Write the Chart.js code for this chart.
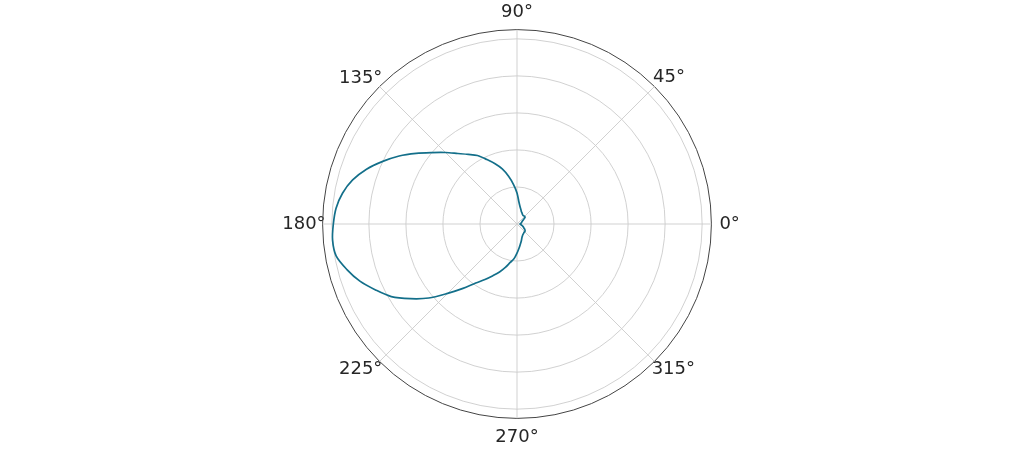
<!DOCTYPE html>
<html lang="en">
<head>
    <meta charset="UTF-8">
    <title>Polar plot</title>
    <script src="https://cdn.jsdelivr.net/npm/chart.js"></script>
    <style>
        body { margin: 0; background: #fff; }
        #wrap { width: 1035px; height: 450px; position: relative; }
    </style>
</head>
<body>
    <div id="wrap"><canvas id="polarChart"></canvas></div>

    <script>
        // angles in degrees, counter-clockwise from the right (0 deg)
        const angles = [0, 5, 10, 15, 20, 25, 30, 35, 40, 45, 50, 55,
                        60, 65, 70, 75, 80, 85, 90, 95, 100, 105, 110, 115,
                        120, 125, 130, 135, 140, 145, 150, 155, 160, 165, 170, 175,
                        180, 185, 190, 195, 200, 205, 210, 215, 220, 225, 230, 235,
                        240, 245, 250, 255, 260, 265, 270, 275, 280, 285, 290, 295,
                        300, 305, 310, 315, 320, 325, 330, 335, 340, 345, 350, 355];

        // radius at each angle
        const radius = [0.016, 0.019, 0.022, 0.024, 0.027, 0.030, 0.035, 0.043, 0.057, 0.058, 0.057, 0.057,
                        0.059, 0.065, 0.070, 0.081, 0.095, 0.119, 0.168, 0.214, 0.262, 0.308, 0.346, 0.384,
                        0.427, 0.459, 0.497, 0.546, 0.600, 0.665, 0.735, 0.800, 0.865, 0.919, 0.957, 0.981,
                        0.992, 1.000, 0.992, 0.951, 0.903, 0.843, 0.784, 0.703, 0.622, 0.530, 0.454, 0.389,
                        0.346, 0.308, 0.276, 0.243, 0.211, 0.189, 0.157, 0.130, 0.108, 0.092, 0.078, 0.070,
                        0.065, 0.062, 0.059, 0.059, 0.057, 0.051, 0.043, 0.038, 0.032, 0.027, 0.022, 0.019];

        const labelAngles = [0, 45, 90, 135, 180, 225, 270, 315];
        // gap between the outer circle and each angle label (labels are edge aligned)
        const labelPadding = { 0: 8, 45: -2, 90: 6, 135: -4, 180: -3, 225: -4, 270: 8, 315: -4 };
        const radialTicks = [0, 0.2, 0.4, 0.6, 0.8, 1.0, 1.05];

        // chart.js goes clockwise from startAngle, so walk the angles backwards
        const order = angles.map((a, k) => (angles.length - k) % angles.length);
        const chartLabels = order.map(i => angles[i] + '°');
        const chartData = order.map(i => radius[i]);

        const angleAt = index => angles[order[index]];

        const ctx = document.getElementById('polarChart').getContext('2d');
        new Chart(ctx, {
            type: 'radar',
            data: {
                labels: chartLabels,
                datasets: [{
                    data: chartData,
                    borderColor: '#136f8a',
                    borderWidth: 1.7,
                    backgroundColor: 'transparent',
                    fill: false,
                    pointRadius: 0,
                    pointHoverRadius: 0,
                    tension: 0.3
                }]
            },
            options: {
                responsive: true,
                maintainAspectRatio: false,
                animation: false,
                layout: { padding: { top: 2, bottom: 0 } },
                plugins: {
                    legend: { display: false },
                    tooltip: { enabled: false }
                },
                scales: {
                    r: {
                        min: 0,
                        max: 1.05,
                        startAngle: 90,
                        afterBuildTicks: scale => {
                            scale.ticks = radialTicks.map(v => ({ value: v }));
                        },
                        ticks: { display: false },
                        grid: {
                            circular: true,
                            color: c => c.tick && c.tick.value === 1.05 ? '#444444' : '#cccccc',
                            lineWidth: c => c.tick && c.tick.value === 1.05 ? 1 : 0.9
                        },
                        angleLines: {
                            color: '#cccccc',
                            lineWidth: c => labelAngles.includes(angleAt(c.index)) ? 0.9 : 0
                        },
                        pointLabels: {
                            color: '#262626',
                            font: { family: 'DejaVu Sans', size: 18 },
                            padding: c => {
                                const a = angleAt(c.index);
                                return a in labelPadding ? labelPadding[a] : 0;
                            },
                            callback: (label, index) =>
                                labelAngles.includes(angleAt(index)) ? label : ''
                        }
                    }
                }
            }
        });
    </script>
</body>
</html>
